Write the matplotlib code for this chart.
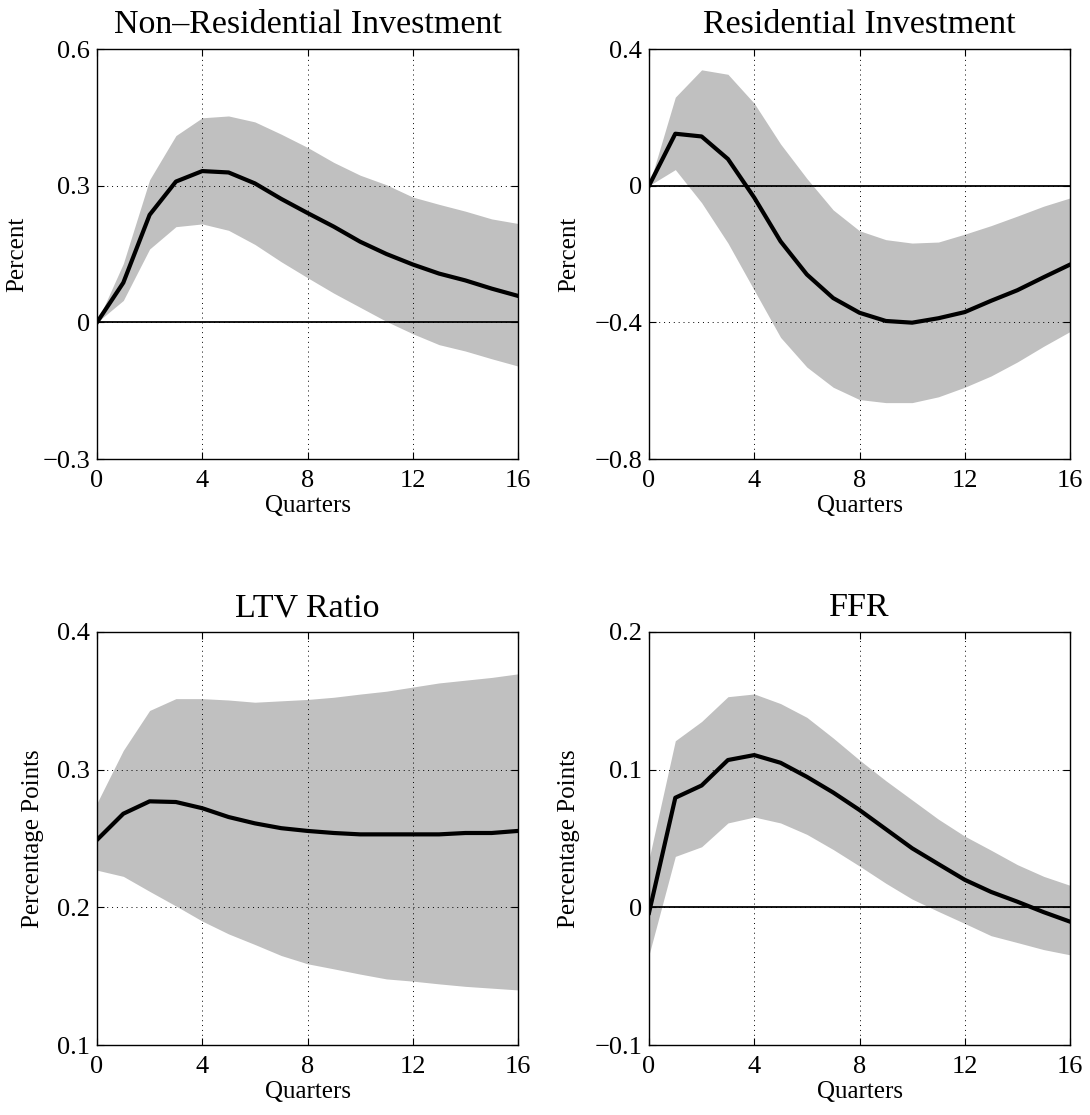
import matplotlib
matplotlib.use('Agg')
import matplotlib.pyplot as plt

plt.rcParams['font.family'] = ['Liberation Serif', 'DejaVu Serif']
plt.rcParams['axes.unicode_minus'] = True

quarters = list(range(17))

# Non-Residential Investment
nri_mean = [0.0, 0.087, 0.236, 0.309, 0.332, 0.329, 0.305, 0.271, 0.240, 0.210,
            0.177, 0.150, 0.127, 0.107, 0.092, 0.074, 0.058]
nri_upper = [0.0, 0.129, 0.313, 0.410, 0.449, 0.453, 0.440, 0.413, 0.384, 0.351,
             0.323, 0.302, 0.275, 0.259, 0.244, 0.227, 0.217]
nri_lower = [0.0, 0.048, 0.161, 0.210, 0.216, 0.202, 0.171, 0.133, 0.098, 0.064,
             0.033, 0.002, -0.025, -0.049, -0.063, -0.080, -0.096]

# Residential Investment
ri_mean = [0.0, 0.152, 0.144, 0.078, -0.035, -0.163, -0.260, -0.329, -0.372, -0.396,
           -0.401, -0.388, -0.370, -0.337, -0.306, -0.268, -0.231]
ri_upper = [0.0, 0.259, 0.339, 0.326, 0.241, 0.122, 0.021, -0.071, -0.132, -0.158,
            -0.168, -0.165, -0.142, -0.117, -0.089, -0.060, -0.036]
ri_lower = [0.0, 0.047, -0.050, -0.168, -0.306, -0.444, -0.531, -0.590, -0.626, -0.635,
            -0.635, -0.618, -0.590, -0.557, -0.516, -0.470, -0.427]

# LTV Ratio
ltv_mean = [0.249, 0.268, 0.277, 0.2765, 0.272, 0.2656, 0.261, 0.2575, 0.2555, 0.254,
            0.253, 0.253, 0.253, 0.253, 0.254, 0.254, 0.2555]
ltv_upper = [0.2757, 0.314, 0.343, 0.3516, 0.3516, 0.3506, 0.349, 0.350, 0.351, 0.3526,
             0.3549, 0.357, 0.360, 0.363, 0.365, 0.367, 0.3696]
ltv_lower = [0.227, 0.2225, 0.2116, 0.201, 0.190, 0.1807, 0.173, 0.165, 0.159, 0.1553,
             0.1515, 0.148, 0.1464, 0.1444, 0.1426, 0.1413, 0.140]

# FFR
ffr_mean = [-0.004, 0.0796, 0.0885, 0.107, 0.1106, 0.105, 0.0948, 0.0834, 0.0707, 0.0568,
            0.0429, 0.0314, 0.020, 0.0112, 0.0041, -0.0035, -0.0104]
ffr_upper = [0.035, 0.121, 0.135, 0.153, 0.155, 0.148, 0.138, 0.123, 0.107, 0.092,
             0.078, 0.064, 0.0517, 0.0415, 0.031, 0.0225, 0.016]
ffr_lower = [-0.0345, 0.037, 0.044, 0.0613, 0.0656, 0.0613, 0.053, 0.042, 0.030, 0.0175,
             0.006, -0.003, -0.0117, -0.0206, -0.0256, -0.0307, -0.0345]

panels = [
    ('Non\u2013Residential Investment', 'Percent', nri_mean, nri_lower, nri_upper,
     [-0.3, 0, 0.3, 0.6], ['\u22120.3', '0', '0.3', '0.6'], True),
    ('Residential Investment', 'Percent', ri_mean, ri_lower, ri_upper,
     [-0.8, -0.4, 0, 0.4], ['\u22120.8', '\u22120.4', '0', '0.4'], True),
    ('LTV Ratio', 'Percentage Points', ltv_mean, ltv_lower, ltv_upper,
     [0.1, 0.2, 0.3, 0.4], ['0.1', '0.2', '0.3', '0.4'], False),
    ('FFR', 'Percentage Points', ffr_mean, ffr_lower, ffr_upper,
     [-0.1, 0, 0.1, 0.2], ['\u22120.1', '0', '0.1', '0.2'], True),
]

# axes rectangles in pixels (left, top, right, bottom)
W, H = 1090, 1115
boxes = [(97, 49, 518, 459), (649, 49, 1070, 459),
         (97, 632, 518, 1045), (649, 632, 1070, 1045)]
ylab_x = [-0.163, -0.164, -0.126, -0.164]

fig = plt.figure(figsize=(W / 100, H / 100), dpi=100)

for i, (title, ylabel, mean, lower, upper, yt, ytl, zero) in enumerate(panels):
    l, t, r, b = boxes[i]
    ax = fig.add_axes([l / W, 1 - b / H, (r - l) / W, (b - t) / H])
    ax.fill_between(quarters, lower, upper, color='#c0c0c0', linewidth=0)
    if zero:
        ax.axhline(0, color='k', linewidth=1.3)
    ax.plot(quarters, mean, color='k', linewidth=3)
    ax.set_xlim(0, 16)
    ax.set_ylim(yt[0], yt[-1])
    ax.set_xticks([0, 4, 8, 12, 16])
    ax.set_yticks(yt)
    ax.set_yticklabels(ytl)
    ax.grid(True, linestyle=(0, (1, 4)), color='k', linewidth=0.7)
    ax.tick_params(direction='in', top=True, right=True, length=5, width=0.8,
                   labelsize=19)
    ax.tick_params(axis='x', pad=8)
    ax.tick_params(axis='y', pad=5)
    for s in ax.spines.values():
        s.set_linewidth(1.0)
    ax.set_title(title, fontsize=24.5, pad=11.5)
    ax.set_xlabel('Quarters', fontsize=18)
    ax.set_ylabel(ylabel, fontsize=18)
    ax.xaxis.set_label_coords(0.5, -0.088)
    ax.yaxis.set_label_coords(ylab_x[i], 0.5)

fig.savefig('out.png', dpi=100)
